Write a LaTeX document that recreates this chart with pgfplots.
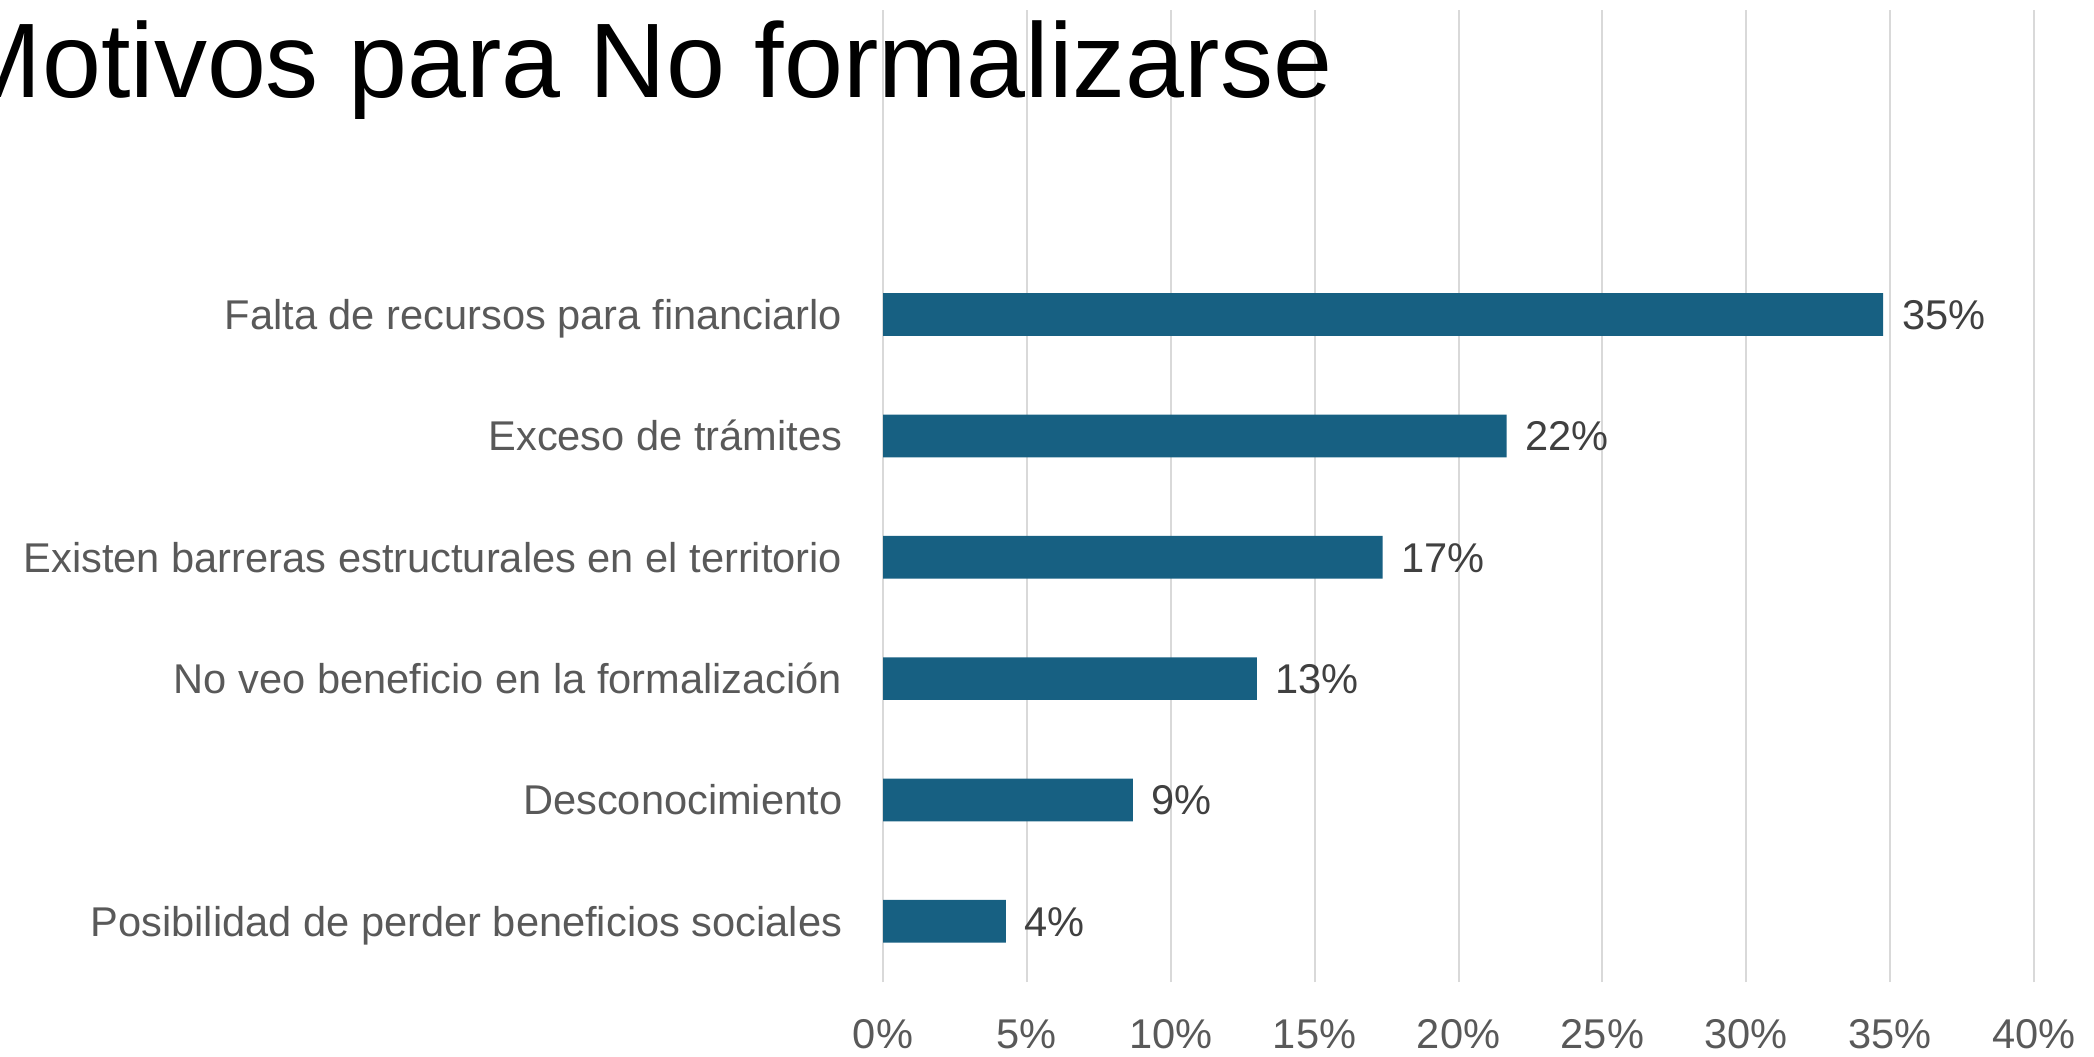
\documentclass[border=0pt]{standalone}
\usepackage{pgfplots}
\pgfplotsset{compat=1.18}
\usepackage{fontspec}
\setmainfont{Liberation Sans}
\definecolor{barblue}{RGB}{23,96,130}
\definecolor{labgray}{RGB}{89,89,89}
\definecolor{valgray}{RGB}{64,64,64}
\definecolor{gridgray}{RGB}{217,217,217}
\begin{document}
\begin{tikzpicture}
\useasboundingbox (0,0) rectangle (523.5pt,-264.25pt);
\clip (0,0) rectangle (523.5pt,-264.25pt);
\begin{axis}[
  at={(220.75pt,-2.5pt)}, anchor=north west,
  scale only axis, width=287.75pt, height=243pt,
  xbar, bar width=0.352,
  xmin=0, xmax=40, ymin=-0.5, ymax=7.51,
  xtick={0,5,...,40},
  xticklabel={\pgfmathprintnumber{\tick}\%},
  /pgf/number format/assume math mode=true,
  ytick={0,1,2,3,4,5},
  yticklabels={Posibilidad de perder beneficios sociales, Desconocimiento, No veo beneficio en la formalización, Existen barreras estructurales en el territorio\hspace{0.3em}, Exceso de trámites, Falta de recursos para financiarlo},
  axis line style={draw=none},
  major tick length=0pt,
  xmajorgrids, grid style={gridgray, line width=0.5pt},
  yticklabel style={anchor=base east, inner sep=0pt, xshift=-10pt, yshift=-3.7pt, font=\fontsize{10.4}{12}\selectfont, text=labgray},
  xticklabel style={anchor=base, inner sep=0pt, yshift=-16.5pt, font=\fontsize{10.4}{12}\selectfont, text=labgray},
  point meta=explicit symbolic,
  nodes near coords,
  nodes near coords style={anchor=base west, inner sep=0pt, xshift=4.5pt, yshift=-3.7pt, font=\fontsize{10.4}{12}\selectfont, text=valgray},
  clip=false,
]
\addplot[fill=barblue, draw=none] coordinates {
  (4.27,0) [4\%]
  (8.68,1) [9\%]
  (12.99,2) [13\%]
  (17.36,3) [17\%]
  (21.67,4) [22\%]
  (34.76,5) [35\%]
};
\end{axis}
\node[anchor=base west, inner sep=0pt, font=\fontsize{26.5}{30}\selectfont] at (-11.75pt,-24.5pt) {Motivos para No formalizarse};
\end{tikzpicture}
\end{document}
